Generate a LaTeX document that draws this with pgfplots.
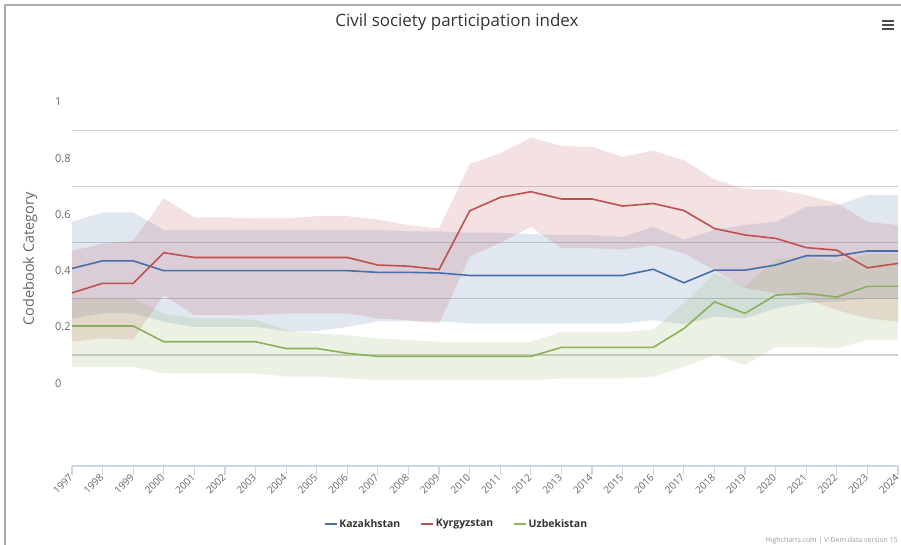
\documentclass[border=0pt]{standalone}
\usepackage{fontspec}
\setmainfont{Open Sans}
\usepackage{pgfplots}
\pgfplotsset{compat=1.18}
\usepackage{pgfplotstable}
\usepgfplotslibrary{fillbetween}

\definecolor{kzc}{RGB}{70,110,170}
\definecolor{kgc}{RGB}{190,80,80}
\definecolor{uzc}{RGB}{140,175,90}
\definecolor{gridc}{RGB}{208,208,208}
\definecolor{tickc}{RGB}{204,214,235}
\definecolor{labc}{RGB}{102,102,102}
\definecolor{titc}{RGB}{51,51,51}

\pgfplotstableread{
year mid lo hi
1997 0.408 0.230 0.574
1998 0.435 0.248 0.607
1999 0.435 0.248 0.607
2000 0.400 0.218 0.545
2001 0.400 0.200 0.545
2002 0.400 0.200 0.545
2003 0.400 0.200 0.545
2004 0.400 0.185 0.545
2005 0.400 0.185 0.545
2006 0.400 0.200 0.545
2007 0.394 0.220 0.545
2008 0.394 0.220 0.540
2009 0.392 0.220 0.540
2010 0.383 0.212 0.535
2011 0.383 0.212 0.535
2012 0.383 0.212 0.530
2013 0.383 0.212 0.527
2014 0.383 0.212 0.527
2015 0.383 0.212 0.520
2016 0.405 0.224 0.556
2017 0.357 0.210 0.510
2018 0.402 0.236 0.545
2019 0.402 0.230 0.563
2020 0.420 0.266 0.574
2021 0.453 0.284 0.627
2022 0.453 0.290 0.633
2023 0.470 0.300 0.669
2024 0.470 0.300 0.669
}\kz

\pgfplotstableread{
year mid lo hi
1997 0.321 0.147 0.471
1998 0.355 0.159 0.495
1999 0.355 0.155 0.507
2000 0.464 0.313 0.657
2001 0.447 0.242 0.590
2002 0.447 0.242 0.590
2003 0.447 0.242 0.586
2004 0.447 0.248 0.586
2005 0.447 0.248 0.594
2006 0.447 0.248 0.594
2007 0.420 0.230 0.582
2008 0.416 0.224 0.562
2009 0.404 0.212 0.550
2010 0.613 0.450 0.780
2011 0.661 0.500 0.817
2012 0.681 0.556 0.874
2013 0.655 0.480 0.843
2014 0.655 0.480 0.841
2015 0.630 0.475 0.805
2016 0.639 0.490 0.827
2017 0.614 0.462 0.793
2018 0.550 0.402 0.725
2019 0.527 0.338 0.690
2020 0.515 0.320 0.689
2021 0.482 0.300 0.669
2022 0.473 0.260 0.640
2023 0.410 0.230 0.574
2024 0.426 0.218 0.562
}\kg

\pgfplotstableread{
year mid lo hi
1997 0.203 0.058 0.301
1998 0.203 0.058 0.301
1999 0.203 0.058 0.301
2000 0.147 0.035 0.247
2001 0.147 0.035 0.230
2002 0.147 0.035 0.230
2003 0.147 0.035 0.225
2004 0.123 0.023 0.188
2005 0.123 0.023 0.177
2006 0.106 0.017 0.170
2007 0.095 0.010 0.159
2008 0.095 0.010 0.153
2009 0.095 0.010 0.147
2010 0.095 0.010 0.147
2011 0.095 0.010 0.147
2012 0.095 0.010 0.147
2013 0.127 0.017 0.182
2014 0.127 0.017 0.182
2015 0.127 0.017 0.182
2016 0.127 0.022 0.190
2017 0.194 0.058 0.285
2018 0.289 0.100 0.390
2019 0.248 0.064 0.343
2020 0.313 0.129 0.440
2021 0.319 0.129 0.450
2022 0.306 0.124 0.430
2023 0.344 0.153 0.460
2024 0.344 0.153 0.460
}\uz

\begin{document}
\begin{tikzpicture}
\draw[gray!65, line width=1.5bp] (5bp,0) -- (5bp,540bp) -- (901bp,540bp);
\begin{axis}[
  at={(72bp,79bp)}, anchor=south west,
  scale only axis, width=826bp, height=378bp,
  xmin=1997, xmax=2024, ymin=-0.295, ymax=1.05,
  axis x line*=bottom, axis y line*=left,
  y axis line style={draw=none},
  x axis line style={draw=tickc, line width=1.2bp, -},
  tick align=outside,
  major tick length=9bp,
  xtick={1997,...,2024},
  xtick style={draw=tickc, line width=1.2bp},
  x tick label style={rotate=45, anchor=east, xshift=2bp, font=\fontsize{10}{12}\selectfont, text=labc,
     /pgf/number format/1000 sep={}, /pgf/number format/assume math mode=true},
  ytick={0,0.2,0.4,0.6,0.8,1},
  yticklabels={0,0.2,0.4,0.6,0.8,1},
  ytick style={draw=none},
  y tick label style={anchor=west, inner sep=0pt, xshift=-8bp, font=\fontsize{11}{13}\selectfont, text=labc},
  extra y ticks={0.1,0.3,0.5,0.7,0.9},
  extra y tick labels={},
  extra y tick style={grid=major, major grid style={draw=gridc, line width=1.3bp}},
  ylabel={Codebook Category},
  ylabel style={at={(axis description cs:-0.0508,0.548)}, anchor=center, rotate=0, font=\fontsize{14.5}{16}\selectfont, text=labc},
  title={Civil society participation index},
  title style={at={(axis description cs:0.466,1.148)}, anchor=base, font=\fontsize{17}{20}\selectfont, text=titc},
  legend columns=3,
  legend style={at={(axis description cs:0.4655,-0.153)}, anchor=center, draw=none, fill=none,
     font=\bfseries\fontsize{10.5}{12}\selectfont, text=titc,
     /tikz/every even column/.append style={column sep=18bp}},
  legend image code/.code={\draw[#1, line width=1.5bp] (0bp,0bp) -- (12bp,0bp);},
  clip=false,
]
\addplot[name path=kzhi, draw=none, forget plot] table[x=year,y=hi]{\kz};
\addplot[name path=kzlo, draw=none, forget plot] table[x=year,y=lo]{\kz};
\addplot[fill=kzc, fill opacity=0.17, draw=none, forget plot] fill between[of=kzhi and kzlo];
\addplot[name path=kghi, draw=none, forget plot] table[x=year,y=hi]{\kg};
\addplot[name path=kglo, draw=none, forget plot] table[x=year,y=lo]{\kg};
\addplot[fill=kgc, fill opacity=0.17, draw=none, forget plot] fill between[of=kghi and kglo];
\addplot[name path=uzhi, draw=none, forget plot] table[x=year,y=hi]{\uz};
\addplot[name path=uzlo, draw=none, forget plot] table[x=year,y=lo]{\uz};
\addplot[fill=uzc, fill opacity=0.17, draw=none, forget plot] fill between[of=uzhi and uzlo];

\addplot[kzc, line width=1.6bp, mark=none] table[x=year,y=mid]{\kz};
\addlegendentry{Kazakhstan}
\addplot[kgc, line width=1.6bp, mark=none] table[x=year,y=mid]{\kg};
\addlegendentry{Kyrgyzstan}
\addplot[uzc, line width=1.6bp, mark=none] table[x=year,y=mid]{\uz};
\addlegendentry{Uzbekistan}
\end{axis}
\foreach \yy in {516,520,524} {\draw[line width=1.8bp, black!70] (882bp,\yy bp) -- (894bp,\yy bp);}
\node[anchor=south east, inner sep=0pt, font=\fontsize{7}{8}\selectfont, text=gray!80] at (898bp,1bp) {Highcharts.com | V-Dem data version 15};
\pgfresetboundingbox
\path[use as bounding box] (0,0) rectangle (901bp,545bp);
\end{tikzpicture}
\end{document}
